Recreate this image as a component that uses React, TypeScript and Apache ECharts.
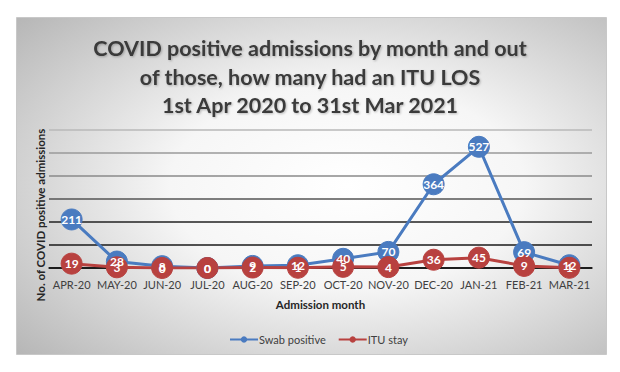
import React, { useEffect, useRef } from "react";
import * as echarts from "echarts";

const categories = ["APR-20", "MAY-20", "JUN-20", "JUL-20", "AUG-20", "SEP-20", "OCT-20", "NOV-20", "DEC-20", "JAN-21", "FEB-21", "MAR-21"];
const swabPositive = [211, 28, 8, 0, 9, 12, 40, 70, 364, 527, 69, 12];
const ituStay = [19, 3, 0, 0, 2, 1, 5, 4, 36, 45, 9, 1];
const titleLines = ["COVID positive admissions by month and out", "of those, how many had an ITU LOS", "1st Apr 2020 to 31st Mar 2021"];
const yAxisTitle = "No. of COVID positive admissions";
const xAxisTitle = "Admission month";

const FONT = "Lato, 'Open Sans', sans-serif";

export default function App() {
  const ref = useRef<HTMLDivElement>(null);
  useEffect(() => {
    const chart = echarts.init(ref.current!, null, { renderer: "svg" });
    const mk = (name: string, data: number[], color: string) => ({
      name,
      type: "line",
      data,
      symbol: "circle",
      symbolSize: 21,
      lineStyle: { width: 3, color },
      itemStyle: { color, borderColor: color },
      label: {
        show: true,
        position: "inside",
        color: "#fff",
        fontFamily: FONT,
        fontWeight: "bold",
        fontSize: 12,
      },
      emphasis: { disabled: true },
    });
    chart.setOption({
      animation: false,
      backgroundColor: "#ffffff",
      title: {
        text: titleLines.join("\n"),
        left: "center",
        top: 29,
        textStyle: {
          fontFamily: FONT,
          fontWeight: "bold",
          fontSize: 21.5,
          lineHeight: 28.5,
          color: "#3a3a3a",
          textShadowColor: "rgba(0,0,0,0.25)",
          textShadowBlur: 2,
          textShadowOffsetX: 1,
          textShadowOffsetY: 1,
        },
      },
      graphic: [
        {
          type: "rect",
          z: -10,
          shape: { x: 16.5, y: 17.5, width: 590, height: 337 },
          style: {
            fill: new echarts.graphic.RadialGradient(0.56, 0.5, 0.75, [
              { offset: 0, color: "#ffffff" },
              { offset: 0.4, color: "#f6f6f6" },
              { offset: 1, color: "#b6b6b6" },
            ]),
            stroke: "#c8c8c8",
            lineWidth: 1,
          },
        },
        {
          type: "text",
          x: 40,
          y: 215,
          rotation: Math.PI / 2,
          style: {
            text: yAxisTitle,
            fontFamily: FONT,
            fontWeight: "bold",
            fontSize: 11.5,
            fill: "#262626",
            align: "center",
            verticalAlign: "middle",
          },
        },
      ],
      legend: {
        left: 224,
        top: 329,
        itemWidth: 28,
        itemHeight: 8,
        itemGap: 12,
        data: ["Swab positive", "ITU stay"],
        textStyle: { fontFamily: FONT, fontSize: 11, color: "#404040", padding: [0, 0, 0, -4] },
      },
      grid: { left: 49, right: 28, top: 130, bottom: 104 },
      xAxis: {
        type: "category",
        data: categories,
        boundaryGap: true,
        name: xAxisTitle,
        nameLocation: "middle",
        nameGap: 30,
        nameTextStyle: { fontFamily: FONT, fontWeight: "bold", fontSize: 11.5, color: "#262626" },
        axisLine: { lineStyle: { color: "#111", width: 1.5 } },
        axisTick: { show: false },
        axisLabel: { interval: 0, fontFamily: FONT, fontSize: 11, color: "#404040", margin: 11 },
      },
      yAxis: {
        type: "value",
        min: 0,
        max: 600,
        interval: 100,
        axisLabel: { show: false },
        axisLine: { show: false },
        axisTick: { show: false },
        splitLine: {
          lineStyle: {
            width: 1.5,
            color: ["#111", "#1a1a1a", "#222", "#555", "#8a8a8a", "#9a9a9a", "#b8b8b8"],
          },
        },
      },
      series: [mk("Swab positive", swabPositive, "#4a7bc0"), mk("ITU stay", ituStay, "#b8413f")],
    });
    return () => chart.dispose();
  }, []);
  return <div ref={ref} style={{ position: "fixed", left: 0, top: 0, width: 620, height: 372 }} />;
}
